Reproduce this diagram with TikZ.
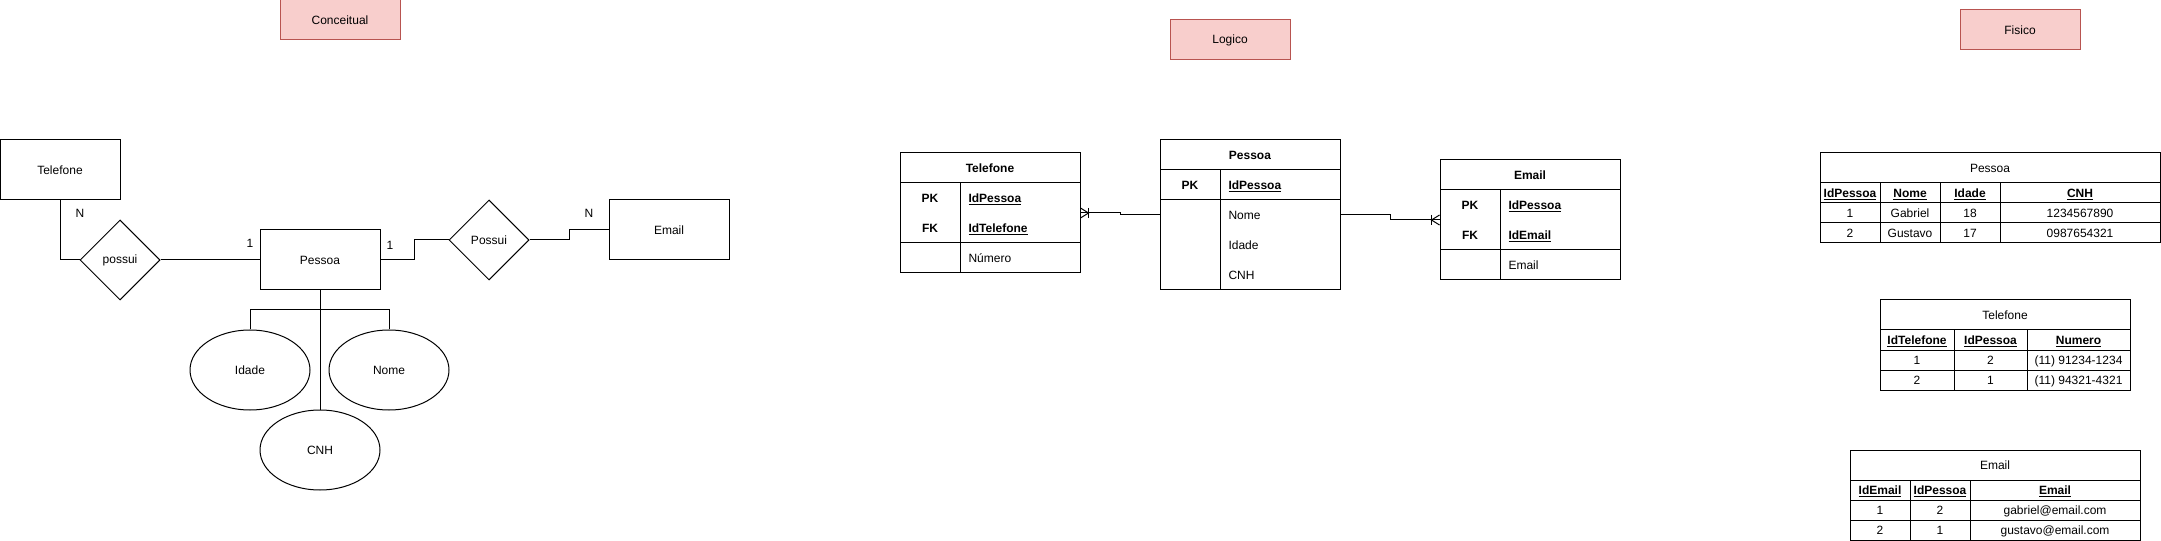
\documentclass[tikz,border=0pt]{standalone}
\usepackage{fontspec}
\setmainfont{Liberation Sans}
\usepackage{tikz}
\usetikzlibrary{shapes.geometric}
\definecolor{titlefill}{HTML}{F8CECC}
\definecolor{titledraw}{HTML}{B85450}
\tikzset{
  titlebox/.style={draw=titledraw, fill=titlefill, minimum width=90pt, minimum height=30pt},
  entity/.style={draw, minimum width=90pt, minimum height=45pt},
  relation/.style={draw, diamond, aspect=1, minimum width=60pt, minimum height=60pt, inner sep=0pt},
  attrib/.style={draw, ellipse, minimum width=90pt, minimum height=60pt},
  tablebox/.style={draw, inner sep=0pt},
  cell/.style={inner sep=0pt, text height=6.5pt, text depth=0pt},
  field/.style={cell, anchor=west},
}

\begin{document}
\begin{tikzpicture}[x=0.75pt, y=-0.75pt, line width=0.75pt, font=\fontsize{9}{11}\selectfont]
    \useasboundingbox (0,0) rectangle (2161,541);

    % conceitual
    \node[titlebox] (tconc) at (340,20) {Conceitual};
    \node[entity] (tel) at (60,170) {Telefone};
    \node[relation] (pos1) at (120,260) {possui};
    \node[entity] (pes) at (320,260) {Pessoa};
    \node[relation] (pos2) at (489,240) {Possui};
    \node[entity] (mail) at (669,230) {Email};
    \node[attrib] (idade) at (250,370) {Idade};
    \node[attrib] (nome) at (389,370) {Nome};
    \node[attrib] (cnh) at (320,450) {CNH};

    \draw (tel.south) |- (pos1.west);
    \draw (pos1.east) -- (pes.west);
    \draw (pes.east) -- ++(34,0) |- (pos2.west);
    \draw (pos2.east) -- ++(40,0) |- (mail.west);
    \draw (pes.south) -- (cnh.north);
    \draw (idade.north) -- ++(0,-20) -| (nome.north);

    \node[cell] (ntel) at (80,213) {N};
    \node[cell] (upes1) at (250,243) {1};
    \node[cell] (upes2) at (390,245) {1};
    \node[cell] (nmail) at (589,213) {N};

    % logico
    \node[titlebox] (tlog) at (1230,40) {Logico};

    \node[tablebox, minimum width=135pt, minimum height=90pt] (ltel) at (990,213) {};
    \draw (900,183) -- (1080,183);
    \draw (900,243) -- (1080,243);
    \draw (960,183) -- (960,273);
    \node[cell] (ltelh) at (990,168) {\textbf{Telefone}};
    \node[cell] (ltelpk) at (930,198) {\textbf{PK}};
    \node[field] (ltelid) at (968,198) {\textbf{\underline{IdPessoa}}};
    \node[cell] (ltelfk) at (930,228) {\textbf{FK}};
    \node[field] (ltelid2) at (968,228) {\textbf{\underline{IdTelefone}}};
    \node[field] (ltelnum) at (968,258) {Número};

    \node[tablebox, minimum width=135pt, minimum height=112.5pt] (lpes) at (1250,215) {};
    \draw (1160,170) -- (1340,170);
    \draw (1160,200) -- (1340,200);
    \draw (1220,170) -- (1220,290);
    \node[cell] (lpesh) at (1250,155) {\textbf{Pessoa}};
    \node[cell] (lpespk) at (1190,185) {\textbf{PK}};
    \node[field] (lpesid) at (1228,185) {\textbf{\underline{IdPessoa}}};
    \node[field] (lpesnome) at (1228,215) {Nome};
    \node[field] (lpesidade) at (1228,245) {Idade};
    \node[field] (lpescnh) at (1228,275) {CNH};

    \node[tablebox, minimum width=135pt, minimum height=90pt] (lmail) at (1530,220) {};
    \draw (1440,190) -- (1620,190);
    \draw (1440,250) -- (1620,250);
    \draw (1500,190) -- (1500,280);
    \node[cell] (lmailh) at (1530,175) {\textbf{Email}};
    \node[cell] (lmailpk) at (1470,205) {\textbf{PK}};
    \node[field] (lmailid) at (1508,205) {\textbf{\underline{IdPessoa}}};
    \node[cell] (lmailfk) at (1470,235) {\textbf{FK}};
    \node[field] (lmailid2) at (1508,235) {\textbf{\underline{IdEmail}}};
    \node[field] (lmailend) at (1508,265) {Email};

    \draw (ltel.east) -- ++(40,0) |- (lpes.west);
    \draw (lpes.east) -- ++(50,0) |- (lmail.west);
    % pes de galinha
    \draw ([shift={(0,-5)}]ltel.east) -- ([shift={(8,0)}]ltel.east) -- ([shift={(0,5)}]ltel.east);
    \draw ([shift={(8,-5)}]ltel.east) -- ([shift={(8,5)}]ltel.east);
    \draw ([shift={(0,-5)}]lmail.west) -- ([shift={(-8,0)}]lmail.west) -- ([shift={(0,5)}]lmail.west);
    \draw ([shift={(-8,-5)}]lmail.west) -- ([shift={(-8,5)}]lmail.west);

    % fisico
    \node[titlebox] (tfis) at (2020,30) {Fisico};

    \node[tablebox, minimum width=255pt, minimum height=67.5pt] (fpes) at (1990,198) {};
    \draw (1820,183) -- (2160,183);
    \draw (1820,203) -- (2160,203);
    \draw (1820,223) -- (2160,223);
    \draw (1880,183) -- (1880,243);
    \draw (1940,183) -- (1940,243);
    \draw (2000,183) -- (2000,243);
    \node[cell] (fpesh) at (1990,168) {Pessoa};
    \node[cell] (fpesc1) at (1850,193) {\textbf{\underline{IdPessoa}}};
    \node[cell] (fpesc2) at (1910,193) {\textbf{\underline{Nome}}};
    \node[cell] (fpesc3) at (1970,193) {\textbf{\underline{Idade}}};
    \node[cell] (fpesc4) at (2080,193) {\textbf{\underline{CNH}}};
    \node[cell] (fpesa1) at (1850,213) {1};
    \node[cell] (fpesa2) at (1910,213) {Gabriel};
    \node[cell] (fpesa3) at (1970,213) {18};
    \node[cell] (fpesa4) at (2080,213) {1234567890};
    \node[cell] (fpesb1) at (1850,233) {2};
    \node[cell] (fpesb2) at (1910,233) {Gustavo};
    \node[cell] (fpesb3) at (1970,233) {17};
    \node[cell] (fpesb4) at (2080,233) {0987654321};

    \node[tablebox, minimum width=187.5pt, minimum height=67.5pt] (ftel) at (2005,345) {};
    \draw (1880,330) -- (2130,330);
    \draw (1880,350) -- (2130,350);
    \draw (1880,370) -- (2130,370);
    \draw (1954,330) -- (1954,390);
    \draw (2027,330) -- (2027,390);
    \node[cell] (ftelh) at (2005,315) {Telefone};
    \node[cell] (ftelc1) at (1917,340) {\textbf{\underline{IdTelefone}}};
    \node[cell] (ftelc2) at (1990.5,340) {\textbf{\underline{IdPessoa}}};
    \node[cell] (ftelc3) at (2078.5,340) {\textbf{\underline{Numero}}};
    \node[cell] (ftela1) at (1917,360) {1};
    \node[cell] (ftela2) at (1990.5,360) {2};
    \node[cell] (ftela3) at (2078.5,360) {(11) 91234-1234};
    \node[cell] (ftelb1) at (1917,380) {2};
    \node[cell] (ftelb2) at (1990.5,380) {1};
    \node[cell] (ftelb3) at (2078.5,380) {(11) 94321-4321};

    \node[tablebox, minimum width=217.5pt, minimum height=67.5pt] (fmail) at (1995,495) {};
    \draw (1850,480) -- (2140,480);
    \draw (1850,500) -- (2140,500);
    \draw (1850,520) -- (2140,520);
    \draw (1910,480) -- (1910,540);
    \draw (1970,480) -- (1970,540);
    \node[cell] (fmailh) at (1995,465) {Email};
    \node[cell] (fmailc1) at (1880,490) {\textbf{\underline{IdEmail}}};
    \node[cell] (fmailc2) at (1940,490) {\textbf{\underline{IdPessoa}}};
    \node[cell] (fmailc3) at (2055,490) {\textbf{\underline{Email}}};
    \node[cell] (fmaila1) at (1880,510) {1};
    \node[cell] (fmaila2) at (1940,510) {2};
    \node[cell] (fmaila3) at (2055,510) {gabriel@email.com};
    \node[cell] (fmailb1) at (1880,530) {2};
    \node[cell] (fmailb2) at (1940,530) {1};
    \node[cell] (fmailb3) at (2055,530) {gustavo@email.com};
  \end{tikzpicture}
\end{document}
